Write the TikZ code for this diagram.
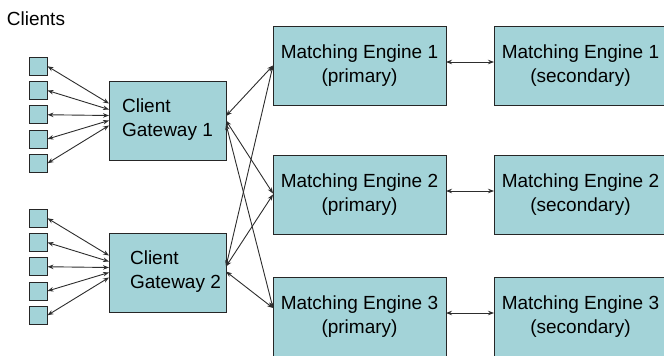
\documentclass[tikz,border=0pt]{standalone}
\usepackage{fontspec}
\setmainfont{Liberation Sans}
\usepackage{xcolor}
\usepackage{tikz}
\usetikzlibrary{arrows.meta, positioning, calc}

\definecolor{boxfill}{RGB}{163,211,216}
\definecolor{edgegray}{RGB}{38,38,38}
\definecolor{linkgray}{RGB}{45,45,45}

\begin{document}
\begin{tikzpicture}[
    x=1pt, y=1pt,
    font=\fontsize{19}{23.5}\selectfont,
    base/.style={draw=edgegray, line width=1pt, fill=boxfill, outer sep=0pt},
    engine/.style={base, rectangle, minimum height=79pt, minimum width=173pt, align=center, inner sep=0pt},
    gateway/.style={base, rectangle, minimum height=79pt, minimum width=117pt, inner sep=0pt, align=left},
    client/.style={base, rectangle, minimum size=18pt, inner sep=0pt},
    arrow/.style={linkgray, line width=0.9pt, <->, >={Stealth[length=6pt, width=4.5pt]}}
]
\useasboundingbox (0,0) rectangle (664,-356);

% Nodes
\node (title) at (36,-19) {Clients};
\node (me1) [engine] at (359.5,-65.5) {Matching Engine 1\\(primary)};
\node (me2) [engine, below=50pt of me1] {Matching Engine 2\\(primary)};
\node (me3) [engine, below=43pt of me2] {Matching Engine 3\\(primary)};
\node (se1) [engine, right=48pt of me1] {Matching Engine 1\\(secondary)};
\node (se2) [engine, right=48pt of me2] {Matching Engine 2\\(secondary)};
\node (se3) [engine, right=48pt of me3] {Matching Engine 3\\(secondary)};
\node (g1) [gateway, left=47pt of me1, yshift=-55pt] {Client\\Gateway 1\\[-18pt]};
\node (g2) [gateway, below=73pt of g1] {\hspace*{16pt}Client\\\hspace*{16pt}Gateway 2\\[-18pt]};

% Clients and their links
\foreach \g in {1,2}
  \foreach \k/\e in {1/17,2/11,3/5,4/0,5/-5} {
    \node (c\g\k) [client] at ($(g\g.west)+(-70.5,5.75+24.25*3-24.25*\k)$) {};
    \draw[arrow] (c\g\k.east) -- ([yshift=\e pt]g\g.west);
  }

% Links
\draw[arrow] ([yshift=4.5pt]g1.east) -- (me1.west);
\draw[arrow] (g1.east) -- ([yshift=1pt]me2.west);
\draw[arrow] ([yshift=-3.5pt]g1.east) -- ([yshift=8.5pt]me3.west);
\draw[arrow] ([yshift=6pt]g2.east) -- (me1.west);
\draw[arrow] ([yshift=6pt]g2.east) -- (me2.west);
\draw[arrow] ([yshift=1pt]g2.east) -- ([yshift=8.5pt]me3.west);
\foreach \i in {1,2,3}
  \draw[arrow] ([yshift=3.5pt]me\i.east) -- ([yshift=3.5pt]se\i.west);

\end{tikzpicture}
\end{document}
